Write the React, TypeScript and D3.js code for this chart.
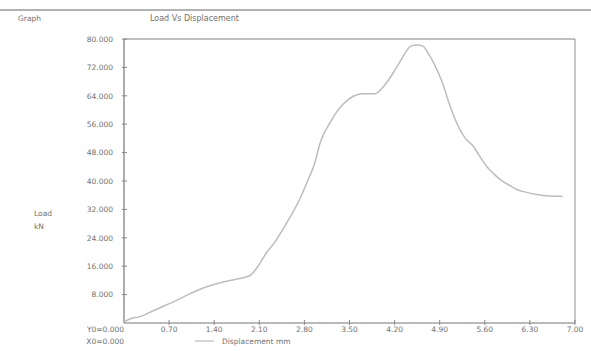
import React from "react";
import * as d3 from "d3";

const displacement = [0, 0.1, 0.25, 0.4, 0.56, 0.75, 1.02, 1.25, 1.49, 1.75, 1.95, 2.06, 2.22, 2.35, 2.47, 2.6, 2.73, 2.85, 2.96, 3.04, 3.2, 3.4, 3.55, 3.7, 3.9, 4.0, 4.08, 4.18, 4.28, 4.38, 4.45, 4.55, 4.64, 4.72, 4.8, 4.94, 5.06, 5.21, 5.3, 5.42, 5.52, 5.63, 5.74, 5.84, 6.0, 6.1, 6.25, 6.41, 6.6, 6.81];
const load = [0.3, 1.2, 1.8, 3.0, 4.3, 5.8, 8.2, 10.0, 11.3, 12.4, 13.3, 15.5, 20.0, 23.0, 26.5, 30.5, 35.0, 40.0, 45.0, 50.5, 56.5, 61.6, 63.8, 64.6, 64.6, 66.0, 67.8, 70.5, 73.5, 76.5, 78.0, 78.3, 78.0, 76.0, 73.5, 67.8, 61.1, 54.6, 52.0, 49.8, 47.0, 44.1, 42.0, 40.4, 38.6, 37.6, 36.8, 36.2, 35.8, 35.7];
const xTicks = [0.7, 1.4, 2.1, 2.8, 3.5, 4.2, 4.9, 5.6, 6.3, 7.0];
const xTickLabels = ["0.70", "1.40", "2.10", "2.80", "3.50", "4.20", "4.90", "5.60", "6.30", "7.00"];
const yTicks = [8, 16, 24, 32, 40, 48, 56, 64, 72, 80];
const yTickLabels = ["8.000", "16.000", "24.000", "32.000", "40.000", "48.000", "56.000", "64.000", "72.000", "80.000"];

export default function App() {
  const W = 591, H = 351;
  const x = d3.scaleLinear().domain([0, 7]).range([124, 575]);
  const y = d3.scaleLinear().domain([0, 80]).range([323, 39]);
  const pts = displacement.map((d, i) => [d, load[i]] as [number, number]);
  const line = d3.line<[number, number]>().x(d => x(d[0])).y(d => y(d[1])).curve(d3.curveMonotoneX);
  const font = "'DejaVu Sans', Verdana, sans-serif";
  const tc = "#707070";
  return (
    <svg width={W} height={H} style={{ position: "absolute", left: 0, top: 0, background: "#fff" }} fontFamily={font}>
      <rect x={0} y={0} width={W} height={H} fill="#fff" />
      <line x1={0} x2={W} y1={10} y2={10} stroke="#999" strokeWidth={1.5} />
      <text x={18} y={21} fontSize={7.5} fill={tc}>Graph</text>
      <text x={150} y={21} fontSize={8} fill={tc}>Load Vs Displacement</text>
      {/* frame */}
      <line x1={124} x2={575} y1={y(80)} y2={y(80)} stroke="#aaa" strokeWidth={1.3} />
      <line x1={575} x2={575} y1={y(80)} y2={323} stroke="#aaa" strokeWidth={1.3} />
      <line x1={124} x2={124} y1={y(80)} y2={323} stroke="#777" strokeWidth={1.2} />
      <line x1={124} x2={575} y1={323} y2={323} stroke="#777" strokeWidth={1.2} />
      {yTicks.map((t, i) => (
        <g key={"y" + i}>
          <line x1={122} x2={127} y1={y(t)} y2={y(t)} stroke="#888" />
          <text x={113} y={y(t) + 2.8} fontSize={7.5} fill={tc} textAnchor="end">{yTickLabels[i]}</text>
        </g>
      ))}
      {xTicks.map((t, i) => (
        <g key={"x" + i}>
          <line x1={x(t)} x2={x(t)} y1={320} y2={325} stroke="#888" />
          <text x={x(t)} y={331.5} fontSize={7.5} fill={tc} textAnchor="middle">{xTickLabels[i]}</text>
        </g>
      ))}
      <text x={124} y={331.5} fontSize={7.5} fill={tc} textAnchor="end">Y0=0.000</text>
      <text x={124} y={344} fontSize={7.5} fill={tc} textAnchor="end">X0=0.000</text>
      <line x1={195} x2={214} y1={341} y2={341} stroke="#aaa" strokeWidth={1} />
      <text x={222} y={344} fontSize={7.5} fill={tc}>Displacement  mm</text>
      <text x={34} y={216} fontSize={7.5} fill={tc}>Load</text>
      <text x={34} y={229} fontSize={7.5} fill={tc}>kN</text>
      <path d={line(pts) || ""} fill="none" stroke="#bdbdbd" strokeWidth={1.5} />
    </svg>
  );
}
